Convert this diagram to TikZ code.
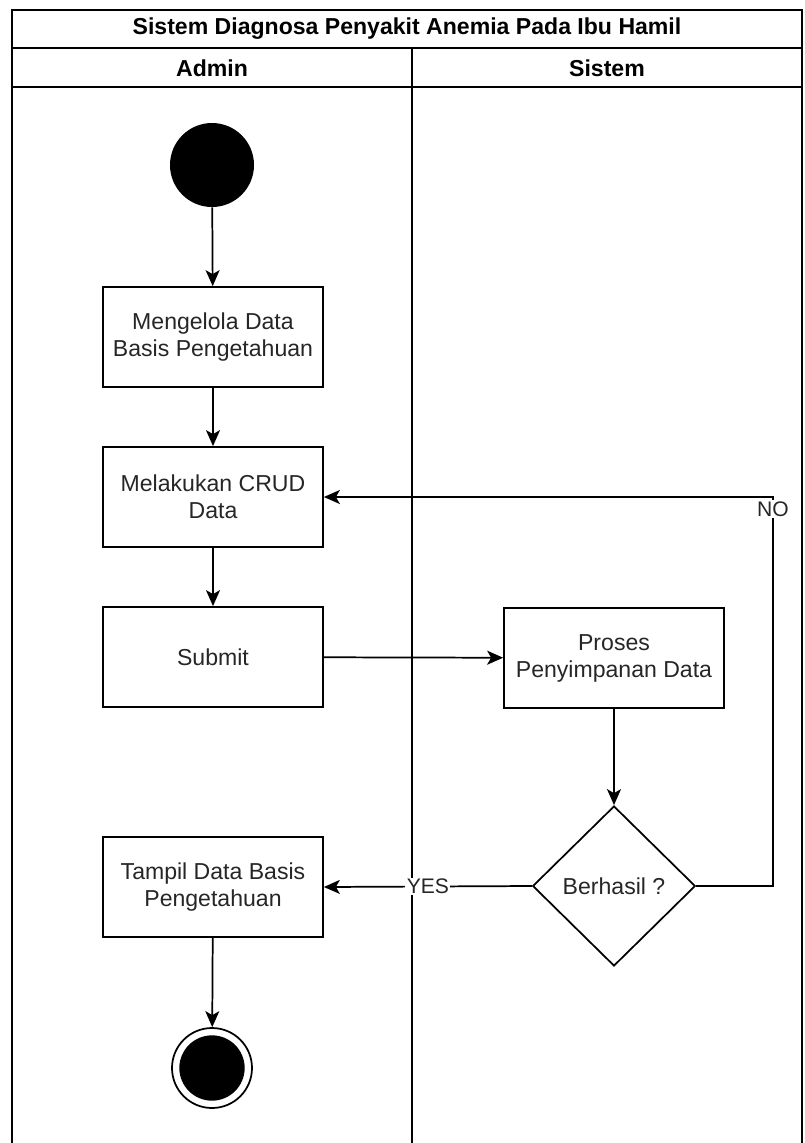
\documentclass[tikz,border=0pt]{standalone}
\usepackage{fontspec}
\setmainfont{Liberation Sans}
\usetikzlibrary{arrows.meta,shapes.geometric}

\tikzset{
  lane/.style={draw,line width=1.3pt},
  act/.style={draw,line width=1.3pt,minimum width=165pt,minimum height=75pt,
    align=center,inner sep=2pt,text=black!85,font=\fontsize{17.3}{20.3}\selectfont},
  cek/.style={diamond,draw,line width=1.3pt,minimum width=122pt,minimum height=120pt,
    inner sep=0pt,text=black!85,font=\fontsize{17.3}{20.3}\selectfont},
  flow/.style={line width=1.3pt,-{Stealth[length=12pt,width=10.5pt,inset=3pt]}},
  lbl/.style={fill=white,inner sep=1pt,text=black!85,font=\fontsize{15.8}{18}\selectfont},
  head/.style={font=\bfseries\fontsize{17.3}{20}\selectfont}
}

\begin{document}
\begin{tikzpicture}[x=0.75pt,y=-0.75pt]
		\useasboundingbox (0,0) rectangle (804,1143);

		%swimlanes
		\draw[lane] (12,10) rectangle (802,1160);
		\draw[lane] (12,48) -- (802,48);
		\draw[lane] (12,87) -- (802,87);
		\draw[lane] (412,48) -- (412,1160);
		\node[head] (judul) at (407,29) {Sistem Diagnosa Penyakit Anemia Pada Ibu Hamil};
		\node[head] (admin) at (212,68) {Admin};
		\node[head] (sistem) at (607,68) {Sistem};

		%activities
		\node[circle,fill=black,minimum size=63pt,inner sep=0pt] (mulai) at (212,165) {};
		\node[act] (kelola) at (213,337) {Mengelola Data\\Basis Pengetahuan};
		\node[act] (crud) at (213,497) {Melakukan CRUD\\Data};
		\node[act] (submit) at (213,657) {Submit};
		\node[act] (proses) at (614,658) {Proses\\Penyimpanan Data};
		\node[cek] (berhasil) at (614,886) {Berhasil ?};
		\node[act] (tampil) at (213,887) {Tampil Data Basis\\Pengetahuan};
		\node[circle,draw,line width=1.3pt,minimum size=60pt,inner sep=0pt] (selesai) at (212,1068) {};
		\fill (selesai.center) circle (24.5pt);
		\coordinate (belok) at (773,497);

		%flows
		\draw[flow] (mulai) -- (kelola);
		\draw[flow] (kelola) -- (crud);
		\draw[flow] (crud) -- (submit);
		\draw[flow] (submit) -- (proses);
		\draw[flow] (proses) -- (berhasil);
		\draw[flow] (berhasil.west) -- node[lbl] {YES} (tampil.east);
		\draw[flow] (berhasil.east) -| (belok) -- (crud.east);
		\node[lbl] (no) at (773,509) {NO};
		\draw[flow] (tampil) -- (selesai);
\end{tikzpicture}
\end{document}
